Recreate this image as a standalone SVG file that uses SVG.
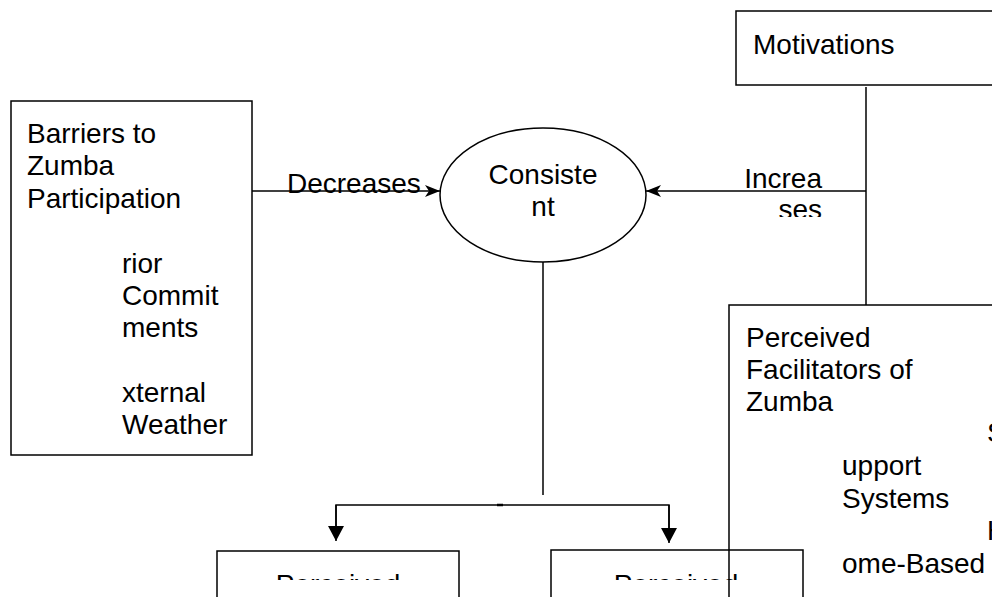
<svg xmlns="http://www.w3.org/2000/svg" width="992" height="597" viewBox="0 0 992 597">
<style>
text{font-family:"Liberation Sans",Arial,sans-serif;font-size:28px;fill:#000}
.box{fill:#fff;stroke:#000;stroke-width:1.5}
.open{fill:none;stroke:#000;stroke-width:1.5}
.ln{fill:none;stroke:#000;stroke-width:1.5}
</style>
<defs>
<marker id="classic" viewBox="0 0 15 12" refX="15" refY="6" markerWidth="15" markerHeight="12" markerUnits="userSpaceOnUse" orient="auto">
<path d="M0,0 L15,6 L0,12 L4,6 Z" fill="#000"/>
</marker>
<marker id="block" viewBox="0 0 15 16" refX="15" refY="8" markerWidth="15" markerHeight="16" markerUnits="userSpaceOnUse" orient="auto">
<path d="M0,0 L15,8 L0,16 Z" fill="#000"/>
</marker>
<clipPath id="clipSes"><rect x="700" y="195" width="200" height="22"/></clipPath>
<clipPath id="clipP1"><rect x="218" y="552" width="240" height="28"/></clipPath>
<clipPath id="clipP2"><rect x="552" y="551" width="250" height="29"/></clipPath>
</defs>

<g id="barriers">
<rect class="box" x="11" y="101" width="241" height="354"/>
<text x="27" y="143">Barriers to</text>
<text x="27" y="175">Zumba</text>
<text x="27" y="208">Participation</text>
<text x="122" y="273">rior</text>
<text x="122" y="305">Commit</text>
<text x="122" y="337">ments</text>
<text x="122" y="402">xternal</text>
<text x="122" y="434">Weather</text>
</g>

<g id="consistent">
<ellipse class="box" cx="543" cy="195" rx="103" ry="67"/>
<text x="543" y="184" text-anchor="middle">Consiste</text>
<text x="543" y="216" text-anchor="middle">nt</text>
</g>

<g id="motivations">
<rect class="box" x="736" y="11" width="270" height="74"/>
<text x="753" y="54">Motivations</text>
</g>

<g id="perceived1">
<rect class="box" x="217" y="551" width="242" height="60"/>
<text x="338" y="594" text-anchor="middle" clip-path="url(#clipP1)">Perceived</text>
</g>

<g id="perceived2">
<rect class="box" x="551" y="550" width="252" height="60"/>
<text x="676" y="594" text-anchor="middle" clip-path="url(#clipP2)">Perceived</text>
</g>

<g id="facilitators">
<rect class="open" x="729" y="305" width="280" height="310"/>
<text x="746" y="347">Perceived</text>
<text x="746" y="379">Facilitators of</text>
<text x="746" y="411">Zumba</text>
<text x="987" y="442">S</text>
<text x="842" y="475">upport</text>
<text x="842" y="508">Systems</text>
<text x="987" y="540">H</text>
<text x="842" y="573">ome-Based</text>
</g>

<g id="connectors">
<line class="ln" x1="252" y1="191" x2="440" y2="191" marker-end="url(#classic)"/>
<text x="287" y="193">Decreases</text>
<line class="ln" x1="866" y1="87" x2="866" y2="305"/>
<line class="ln" x1="866" y1="191" x2="646" y2="191" marker-end="url(#classic)"/>
<text x="822" y="188" text-anchor="end">Increa</text>
<text x="822" y="219" text-anchor="end" clip-path="url(#clipSes)">ses</text>
<line class="ln" x1="543" y1="262" x2="543" y2="495"/>
<polyline class="ln" points="336,530 336,505 669,505 669,530"/>
<line class="ln" x1="336" y1="505" x2="336" y2="541" marker-end="url(#block)"/>
<line class="ln" x1="669" y1="505" x2="669" y2="543" marker-end="url(#block)"/>
<line x1="497" y1="505" x2="503" y2="505" stroke="#000" stroke-width="2.5"/>
</g>
</svg>
